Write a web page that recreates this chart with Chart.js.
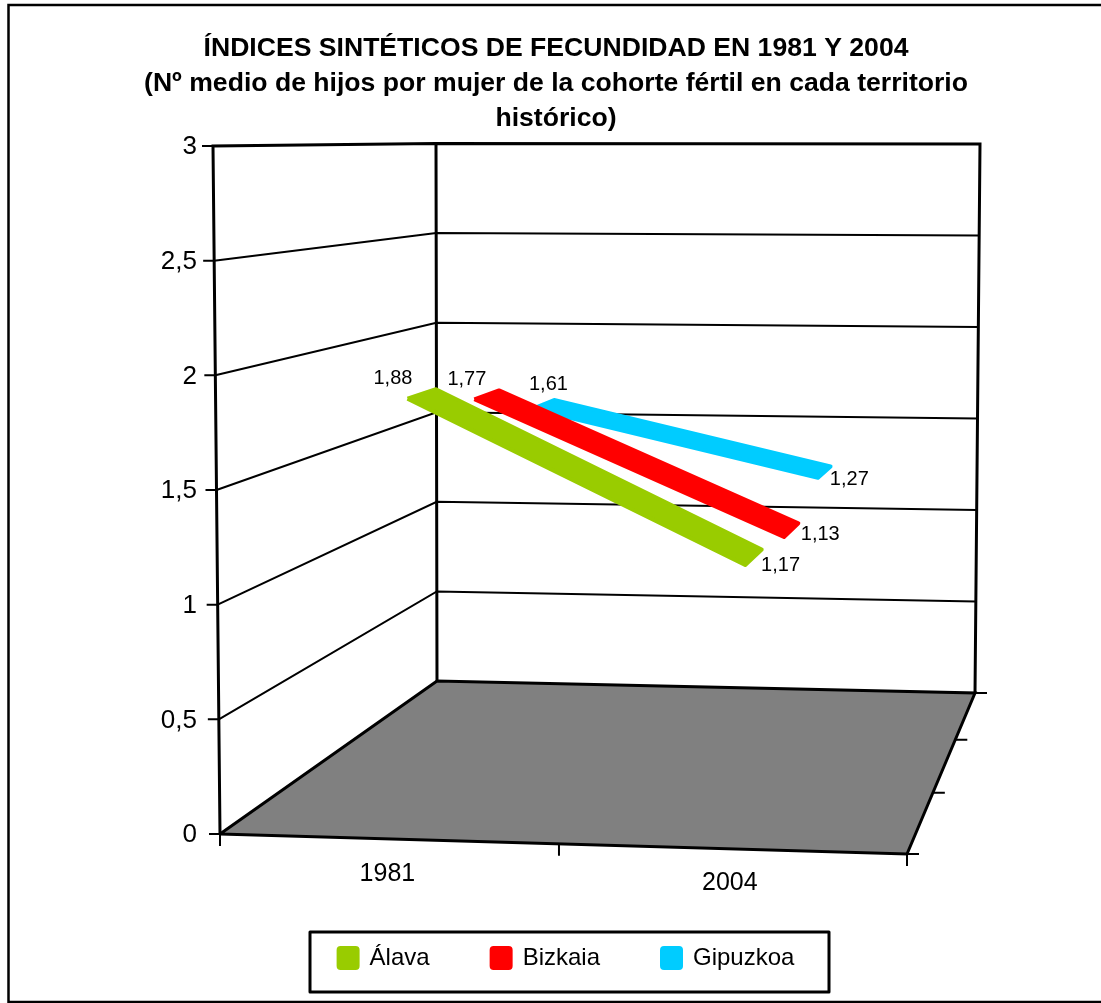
<!DOCTYPE html>
<html>
<head>
<meta charset="utf-8">
<style>
  html, body { margin: 0; padding: 0; background: #fff; }
  #wrap { width: 1101px; height: 1003px; }
</style>
</head>
<body>
<div id="wrap"><canvas id="chart" width="1101" height="1003"></canvas></div>
<script src="https://cdn.jsdelivr.net/npm/chart.js@4/dist/chart.umd.min.js"></script>
<script>
const years = ["1981", "2004"];
const seriesNames = ["Álava", "Bizkaia", "Gipuzkoa"];
const alava = [1.88, 1.17];
const bizkaia = [1.77, 1.13];
const gipuzkoa = [1.61, 1.27];
const valueTicks = [0, 0.5, 1, 1.5, 2, 2.5, 3];
const seriesColors = ["#99CC00", "#FF0000", "#00CCFF"];

const seriesValues = [alava, bizkaia, gipuzkoa];
const titleLines = [
  "ÍNDICES SINTÉTICOS DE FECUNDIDAD EN 1981 Y 2004",
  "(Nº medio de hijos por mujer de la cohorte fértil en cada territorio",
  "histórico)"
];

/* ================= 3D BOX ================= */

// screen position of the eight corners of the plot box
const box = {
  frontLeft:  { low: [220, 834], high: [213, 146] },
  frontRight: { low: [907, 854], high: [912, 153] },
  backLeft:   { low: [437, 681], high: [436, 143.5] },
  backRight:  { low: [975, 693], high: [980, 144] }
};

const maxValue = 3;
const chartTop = 137;
const chartBottom = 881;
const zeroY = 835;
const pxPerUnit = 688 / maxValue;
const depthPerspective = 0.226;
const widthPerspective = -0.026;

function mix(a, b, t) {
  return a + (b - a) * t;
}

// the far sections of the floor look shorter than the near ones
function share(t, k) {
  return t * (1 + k) / (1 + k * t);
}

// u: along categories 0-1, value: data value, w: depth 0-1. Returns screen px
function project(u, value, w) {
  const t = value / maxValue;
  const s = share(w, depthPerspective);
  const r = share(u, widthPerspective);
  const edge = c => [
    mix(c.low[0], c.high[0], t),
    mix(c.low[1], c.high[1], t)
  ];
  const fl = edge(box.frontLeft), fr = edge(box.frontRight);
  const bl = edge(box.backLeft), br = edge(box.backRight);
  const f = [mix(fl[0], fr[0], r), mix(fl[1], fr[1], r)];
  const b = [mix(bl[0], br[0], r), mix(bl[1], br[1], r)];
  return [mix(f[0], b[0], s), mix(f[1], b[1], s)];
}

// the y scale is in value units, so pixels are turned into that before plotting
function toPoint(p) {
  return { x: p[0], y: (zeroY - p[1]) / pxPerUnit };
}

const GAP = { x: null, y: null };

function categoryU(i) {
  return (i + 0.5) / years.length;
}

function ribbon(values, i) {
  const mid = (i + 0.5) / seriesNames.length;
  const half = 0.068;
  const corners = [
    project(categoryU(0), values[0], mid - half),
    project(categoryU(0), values[0], mid + half),
    project(categoryU(1), values[1], mid + half),
    project(categoryU(1), values[1], mid - half)
  ];
  return [...corners, corners[0]].map(toPoint);
}

/* ================= WALLS, FLOOR AND TICKS ================= */

const gridPoints = [];
valueTicks.forEach(v => {
  if (v === 0 || v === maxValue) return;
  gridPoints.push(toPoint(project(0, v, 0)), toPoint(project(0, v, 1)), toPoint(project(1, v, 1)), GAP);
});

const edgePoints = [
  toPoint(project(0, 0, 0)), toPoint(project(0, maxValue, 0)),
  toPoint(project(0, maxValue, 1)), toPoint(project(1, maxValue, 1)),
  toPoint(project(1, 0, 1)), GAP,
  toPoint(project(0, maxValue, 1)), toPoint(project(0, 0, 1))
];

const tickPoints = [];
const tickLine = (p, dx, dy) => {
  tickPoints.push(toPoint(p), toPoint([p[0] + dx, p[1] + dy]), GAP);
};
valueTicks.forEach(v => tickLine(project(0, v, 0), -11, 0));
[0, 0.5, 1].forEach(u => tickLine(project(u, 0, 0), 0, 12));
[0, 1 / 3, 2 / 3, 1].forEach(w => tickLine(project(1, 0, w), 12, 0));

const floorPoints = [
  project(0, 0, 0), project(0, 0, 1), project(1, 0, 1), project(1, 0, 0), project(0, 0, 0)
].map(toPoint);

/* ================= PLUGINS ================= */

const startLabelOffset = [[-29, -15], [-20, -15], [5, -20]];
const endLabelOffset = [[27, 8], [29, 4], [25, 7]];
const yearLabelOffset = [[-1, 35], [-2, 34]];

const pagePlugin = {
  id: "page",
  afterLayout(chart) {
    chart.legend.left += 10.5;
    chart.legend.right += 10.5;
    chart.legend.top += 3;
    chart.legend.bottom += 3;
  },
  beforeDraw(chart) {
    const ctx = chart.ctx;
    ctx.save();
    ctx.fillStyle = "#fff";
    ctx.fillRect(0, 0, chart.width, chart.height);
    ctx.strokeStyle = "#000";
    ctx.lineWidth = 2.5;
    ctx.beginPath();
    ctx.moveTo(chart.width, 5);
    ctx.lineTo(8.5, 5);
    ctx.lineTo(8.5, 1002);
    ctx.lineTo(chart.width, 1002);
    ctx.stroke();
    ctx.lineWidth = 3;
    ctx.lineJoin = "round";
    ctx.strokeRect(310, 932, 519, 60);
    ctx.restore();
  },
  afterDatasetsDraw(chart) {
    const ctx = chart.ctx;
    const px = chart.scales.x;
    const py = chart.scales.y;
    const at = p => {
      const q = toPoint(p);
      return [px.getPixelForValue(q.x), py.getPixelForValue(q.y)];
    };

    ctx.save();
    ctx.fillStyle = "#000";
    ctx.textAlign = "center";
    ctx.textBaseline = "middle";

    ctx.font = "25px 'Liberation Sans'";
    years.forEach((year, i) => {
      const p = at(project(categoryU(i), 0, 0));
      ctx.fillText(year, p[0] + yearLabelOffset[i][0], p[1] + yearLabelOffset[i][1]);
    });

    ctx.font = "20px 'Liberation Sans'";
    seriesValues.forEach((values, s) => {
      const w = (s + 0.5) / seriesNames.length;
      values.forEach((v, i) => {
        const p = at(project(categoryU(i), v, w));
        const off = i === 0 ? startLabelOffset[s] : endLabelOffset[s];
        ctx.fillText(v.toFixed(2).replace(".", ","), p[0] + off[0], p[1] + off[1]);
      });
    });
    ctx.restore();
  }
};

/* ================= CHART ================= */

const ribbonSets = seriesValues.map((values, i) => ({
  label: seriesNames[i],
  data: ribbon(values, i),
  showLine: true,
  fill: "shape",
  backgroundColor: seriesColors[i],
  borderColor: seriesColors[i],
  borderWidth: 4,
  borderJoinStyle: "round",
  pointRadius: 0,
  clip: false
}));

function lineSet(label, data, width, extra) {
  return Object.assign({
    label: label,
    data: data,
    showLine: true,
    borderColor: "#000",
    backgroundColor: "#000",
    borderWidth: width,
    pointRadius: 0,
    clip: false
  }, extra);
}

new Chart(document.getElementById("chart"), {
  type: "scatter",
  data: {
    datasets: [
      ...ribbonSets,
      lineSet("floor", floorPoints, 3, { fill: "shape", backgroundColor: "#808080" }),
      lineSet("edges", edgePoints, 3),
      lineSet("grid", gridPoints, 2),
      lineSet("ticks", tickPoints, 2)
    ]
  },
  options: {
    responsive: false,
    animation: false,
    layout: { padding: { left: 11, right: 0, top: 0, bottom: 26 } },
    plugins: {
      title: {
        display: true,
        text: titleLines,
        color: "#000",
        font: { family: "'Liberation Sans'", size: 26.6, weight: "bold", lineHeight: 35 / 26.6 },
        padding: { top: 31, bottom: 1 }
      },
      legend: {
        position: "bottom",
        labels: {
          color: "#000",
          font: { family: "'Liberation Sans'", size: 24 },
          boxWidth: 19,
          boxHeight: 20,
          padding: 62,
          useBorderRadius: true,
          borderRadius: 2,
          filter: item => seriesNames.includes(item.text)
        }
      },
      tooltip: { enabled: false }
    },
    scales: {
      x: { type: "linear", display: false, min: 200, max: 1101 },
      y: {
        type: "linear",
        position: "left",
        min: (zeroY - chartBottom) / pxPerUnit,
        max: (zeroY - chartTop) / pxPerUnit,
        grid: { display: false, drawTicks: false },
        border: { display: false },
        afterFit: axis => { axis.width = 189; },
        afterBuildTicks: axis => { axis.ticks = valueTicks.map(v => ({ value: v })); },
        ticks: {
          color: "#000",
          padding: 3,
          font: { family: "'Liberation Sans'", size: 26 },
          callback: v => String(v).replace(".", ",")
        }
      }
    }
  },
  plugins: [pagePlugin]
});
</script>
</body>
</html>
